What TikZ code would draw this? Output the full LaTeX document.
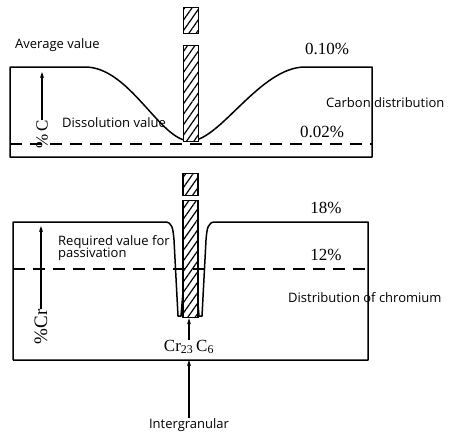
\documentclass[tikz,border=0pt]{standalone}
\usepackage{fontspec}
\setmainfont{Liberation Serif}
\setsansfont{Open Sans}
\usetikzlibrary{positioning,arrows.meta,patterns.meta}
\tikzset{
  lbl/.style  ={font=\sffamily\fontsize{13}{15}\selectfont, inner sep=0pt, align=left},
  pct/.style  ={font=\fontsize{17}{20}\selectfont, inner sep=0pt},
  bar/.style  ={rectangle, draw=black, line width=1.4pt, minimum width=15pt,
                inner sep=0pt, preaction={fill=white},
                pattern={Lines[angle=55,distance=6pt,line width=1.2pt]}},
  prof/.style ={line width=1.5pt, line join=round},
  lim/.style  ={line width=1.8pt, dash pattern=on 12pt off 8pt},
  arr/.style  ={-{Stealth[length=6pt,width=4pt]}, line width=1.1pt},
}
\begin{document}
\begin{tikzpicture}[x=1pt, y=-1pt]
  \useasboundingbox (0,0) rectangle (454,439);

  % carbon profile
  \draw[prof] (10,67) -- (85,67) .. controls (130,67) and (160,141) .. (190,141)
       .. controls (220,141) and (260,67) .. (305,67) -- (372,67) -- (372,157)
       -- (10,157) -- cycle;
  \draw[lim] (10,144) -- (372,144);
  \node[bar, minimum height=26pt, anchor=north] (capA) at (191,7) {};
  \node[bar, minimum height=96pt, anchor=north] (barA) at (191,45) {};

  \node[lbl, anchor=west] (avg) at (15,45) {Average value};
  \node[lbl, anchor=west] (diss) at (62,123) {Dissolution value};
  \node[lbl, anchor=west] (cdist) at (326,103) {Carbon distribution};
  \node[pct] (hiC) at (327,49) {0.10\%};
  \node[pct] (loC) at (322,132) {0.02\%};
  \node[pct, rotate=90] (pcC) at (42,134) {\%\,C};
  \coordinate (pcCtip) at (42,72);
  \draw[arr] (pcC.east) -- (pcCtip);

  % chromium profile
  \draw[prof] (13,360) -- (13,222) -- (165,222) .. controls (172,222) and (173,228) .. (174,240)
       -- (178,316) -- (181,316) -- (183,292);
  \draw[prof] (197,292) -- (199,316) -- (202,316) -- (206,240)
       .. controls (207,228) and (208,222) .. (215,222) -- (368,222) -- (368,360) -- (13,360);
  \node[bar, minimum height=22pt, anchor=north] (capB) at (190.5,173) {};
  \node[bar, minimum height=117pt, anchor=north] (barB) at (190.5,200) {};
  \draw[lim] (13,269) -- (372,269);

  \node[lbl, anchor=north west] (req) at (58,235) {Required value for\\[-3pt]passivation};
  \node[lbl, anchor=west] (crdist) at (288,298) {Distribution of chromium};
  \node[pct] (hiCr) at (326,208) {18\%};
  \node[pct] (loCr) at (326,255) {12\%};
  \node[pct, rotate=90, font=\fontsize{19}{22}\selectfont] (pcCr) at (41,327) {\%Cr};
  \coordinate (pcCrtip) at (41,226);
  \draw[arr] (pcCr.east) -- (pcCrtip);

  \node[pct] (carb) at (189,347) {Cr\textsubscript{23}\,C\textsubscript{6}};
  \draw[arr] (carb.north) -- (carb.north |- barB.south);

  \node[lbl] (ig) at (189,425) {Intergranular};
  \coordinate (gb) at (189,360);
  \draw[arr] (ig.north) -- (gb);
\end{tikzpicture}
\end{document}
